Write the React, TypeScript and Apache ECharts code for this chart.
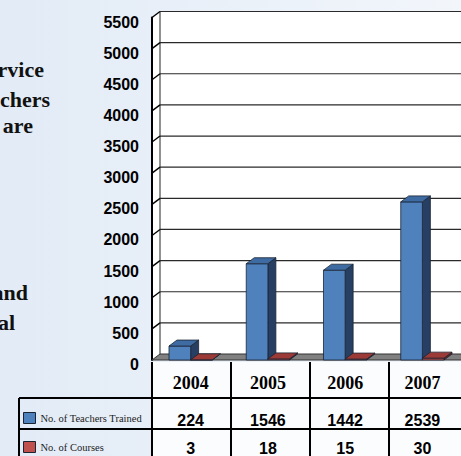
import React, { useEffect, useRef } from "react";
import * as echarts from "echarts";

const years = ["2004", "2005", "2006", "2007"];
const teachersTrained = [224, 1546, 1442, 2539];
const courses = [3, 18, 15, 30];
const yTickValues = [0, 500, 1000, 1500, 2000, 2500, 3000, 3500, 4000, 4500, 5000, 5500];
const seriesNames = ["No. of Teachers Trained", "No. of Courses"];
const sideWords = ["In-service", "Teachers", "are", "and", "total"];

// layout (not data)
const W = 461;
const H = 456;
const GRID_LEFT = 152;
const GRID_TOP = 17.5;
const GRID_W = 316;
const GRID_H = 344.5;
const DX = 8;
const DY = -6;
const BAR_RATIO = 0.28;
const sideWordPos = [
  { right: 44, baseline: 75 },
  { right: 50, baseline: 105 },
  { right: 33, baseline: 131 },
  { right: 28, baseline: 298 },
  { right: 15, baseline: 328 },
];
const legendTops = [412, 441];
const palette = {
  blue: { front: "#4f81bd", top: "#3f6ba3", side: "#263f63" },
  red: { front: "#c0504d", top: "#9c3a37", side: "#6a2321" },
};

function barRender(shade: { front: string; top: string; side: string }, left: boolean) {
  return (params: any, api: any) => {
    const idx = api.value(0);
    const v = api.value(1);
    const topP = api.coord([idx, v]);
    const baseP = api.coord([idx, 0]);
    const band = api.size([1, 0])[0];
    const w = band * BAR_RATIO;
    const x0 = left ? topP[0] - w : topP[0];
    const yT = topP[1];
    const yB = baseP[1];
    const stroke = "#1b2433";
    return {
      type: "group",
      children: [
        {
          type: "polygon",
          shape: { points: [[x0 + w, yT], [x0 + w + DX, yT + DY], [x0 + w + DX, yB + DY], [x0 + w, yB]] },
          style: { fill: shade.side, stroke, lineWidth: 0.8 },
        },
        {
          type: "rect",
          shape: { x: x0, y: yT, width: w, height: Math.max(yB - yT, 0.3) },
          style: { fill: shade.front, stroke, lineWidth: 0.8 },
        },
        {
          type: "polygon",
          shape: { points: [[x0, yT], [x0 + DX, yT + DY], [x0 + w + DX, yT + DY], [x0 + w, yT]] },
          style: { fill: shade.top, stroke, lineWidth: 0.8 },
        },
      ],
    };
  };
}

export default function App() {
  const ref = useRef<HTMLDivElement>(null);
  useEffect(() => {
    if (!ref.current) return;
    const chart = echarts.init(ref.current, undefined, { renderer: "svg", width: W, height: H });
    const yMax = yTickValues[yTickValues.length - 1];
    const band = GRID_W / years.length;

    const tableLines: any[] = [];
    const lineStyle = { stroke: "#000", lineWidth: 2 };
    const rowTop1 = 398;
    const rowTop2 = 429;
    const yBottom = GRID_TOP + GRID_H;
    tableLines.push({ type: "line", z: 50, shape: { x1: 19, y1: rowTop1, x2: W, y2: rowTop1 }, style: lineStyle });
    tableLines.push({ type: "line", z: 50, shape: { x1: 19, y1: rowTop2, x2: W, y2: rowTop2 }, style: lineStyle });
    tableLines.push({ type: "line", z: 50, shape: { x1: 19, y1: rowTop1, x2: 19, y2: H }, style: lineStyle });
    for (let i = 0; i <= years.length; i++) {
      const x = GRID_LEFT + i * band;
      tableLines.push({ type: "line", z: 50, shape: { x1: x, y1: yBottom, x2: x, y2: H }, style: lineStyle });
    }

    const sideTexts = sideWords.map((t, i) => ({
      type: "text",
      z: 50,
      style: {
        text: t,
        x: sideWordPos[i].right,
        y: sideWordPos[i].baseline + 5,
        align: "right",
        verticalAlign: "bottom",
        fill: "#111",
        font: "bold 22px 'Liberation Serif', serif",
      },
    }));

    const legendColors = [palette.blue.front, palette.red.front];
    const legends = seriesNames.map((name, i) => ({
      orient: "vertical",
      left: 23,
      top: legendTops[i],
      padding: 0,
      itemWidth: 12,
      itemHeight: 11,
      selectedMode: false,
      data: [{ name, icon: "rect", itemStyle: { color: legendColors[i], borderColor: "#1b2433", borderWidth: 1 } }],
      textStyle: { fontFamily: "'Liberation Serif', serif", fontSize: 10.5, color: "#222", lineHeight: 12 },
    }));

    chart.setOption({
      animation: false,
      backgroundColor: {
        type: "linear", x: 0, y: 0, x2: 1, y2: 0,
        colorStops: [{ offset: 0, color: "#e2ebf6" }, { offset: 1, color: "#f2f6fb" }],
      },
      grid: { left: GRID_LEFT, top: GRID_TOP, width: GRID_W, height: GRID_H },
      legend: legends,
      graphic: [
        { type: "rect", z: -10, shape: { x: GRID_LEFT, y: yBottom, width: W - GRID_LEFT, height: H - yBottom }, style: { fill: "#fbfcfe" } },
        ...tableLines,
        ...sideTexts,
      ],
      xAxis: {
        type: "category",
        data: years,
        boundaryGap: true,
        axisLine: { show: false },
        axisTick: { show: false },
        axisLabel: {
          interval: 0,
          margin: 2,
          formatter: (val: string, idx: number) =>
            `{yr|${val}}\n{a|${teachersTrained[idx]}}\n{b|${courses[idx]}}`,
          rich: {
            yr: { fontFamily: "'Liberation Serif', serif", fontWeight: "bold", fontSize: 18, lineHeight: 42, color: "#000" },
            a: { fontFamily: "'Liberation Sans', Arial, sans-serif", fontWeight: "bold", fontSize: 16, lineHeight: 32, color: "#000" },
            b: { fontFamily: "'Liberation Sans', Arial, sans-serif", fontWeight: "bold", fontSize: 16, lineHeight: 24, color: "#000" },
          },
        },
      },
      yAxis: {
        type: "value",
        min: 0,
        max: yMax,
        interval: 500,
        axisLine: { show: true, lineStyle: { color: "#000", width: 2 } },
        axisTick: { show: false },
        splitLine: { show: false },
        axisLabel: {
          margin: 13,
          color: "#000",
          fontFamily: "'Liberation Sans', Arial, sans-serif",
          fontWeight: "bold",
          fontSize: 16,
          verticalAlign: "top",
          lineHeight: 9,
          formatter: (v: number) => String(v),
        },
      },
      series: [
        {
          type: "custom",
          name: "wall",
          z: 0,
          silent: true,
          clip: false,
          data: [[0, yMax]],
          renderItem: (params: any, api: any) => {
            const cs = params.coordSys;
            const L = cs.x;
            const R = cs.x + cs.width;
            const yT = api.coord([0, api.value(1)])[1];
            const y0 = api.coord([0, 0])[1];
            return {
              type: "group",
              children: [
                {
                  type: "polygon",
                  shape: { points: [[L, y0], [L, yT], [L + DX, yT + DY], [R + DX, yT + DY], [R + DX, y0]] },
                  style: { fill: "#ffffff" },
                },
                {
                  type: "line",
                  shape: { x1: L + DX, y1: yT + DY, x2: L + DX, y2: y0 + DY },
                  style: { stroke: "#222", lineWidth: 1 },
                },
              ],
            };
          },
        },
        {
          type: "custom",
          name: "gridlines",
          z: 1,
          silent: true,
          clip: false,
          data: yTickValues.map((v) => [0, v]),
          renderItem: (params: any, api: any) => {
            const cs = params.coordSys;
            const L = cs.x;
            const R = cs.x + cs.width;
            const v = api.value(1);
            const y = api.coord([0, v])[1];
            if (v === 0) {
              return {
                type: "polygon",
                shape: { points: [[L, y], [L + DX, y + DY], [R + DX, y + DY], [R, y]] },
                style: { fill: "#808080", stroke: "#333", lineWidth: 1 },
              };
            }
            return {
              type: "group",
              children: [
                { type: "line", shape: { x1: L + DX, y1: y + DY, x2: R + DX, y2: y + DY }, style: { stroke: "#2a2a2a", lineWidth: 1.2 } },
                { type: "line", shape: { x1: L, y1: y, x2: L + DX, y2: y + DY }, style: { stroke: "#000", lineWidth: 1.4 } },
              ],
            };
          },
        },
        {
          type: "custom",
          name: seriesNames[0],
          z: 3,
          clip: false,
          itemStyle: { color: palette.blue.front },
          data: teachersTrained.map((v, i) => [i, v]),
          renderItem: barRender(palette.blue, true),
        },
        {
          type: "custom",
          name: seriesNames[1],
          z: 4,
          clip: false,
          itemStyle: { color: palette.red.front },
          data: courses.map((v, i) => [i, v]),
          renderItem: barRender(palette.red, false),
        },
      ],
    });
    return () => chart.dispose();
  }, []);
  return (
    <div
      ref={ref}
      style={{ position: "fixed", left: 0, top: 0, width: W, height: H, overflow: "hidden" }}
    />
  );
}
